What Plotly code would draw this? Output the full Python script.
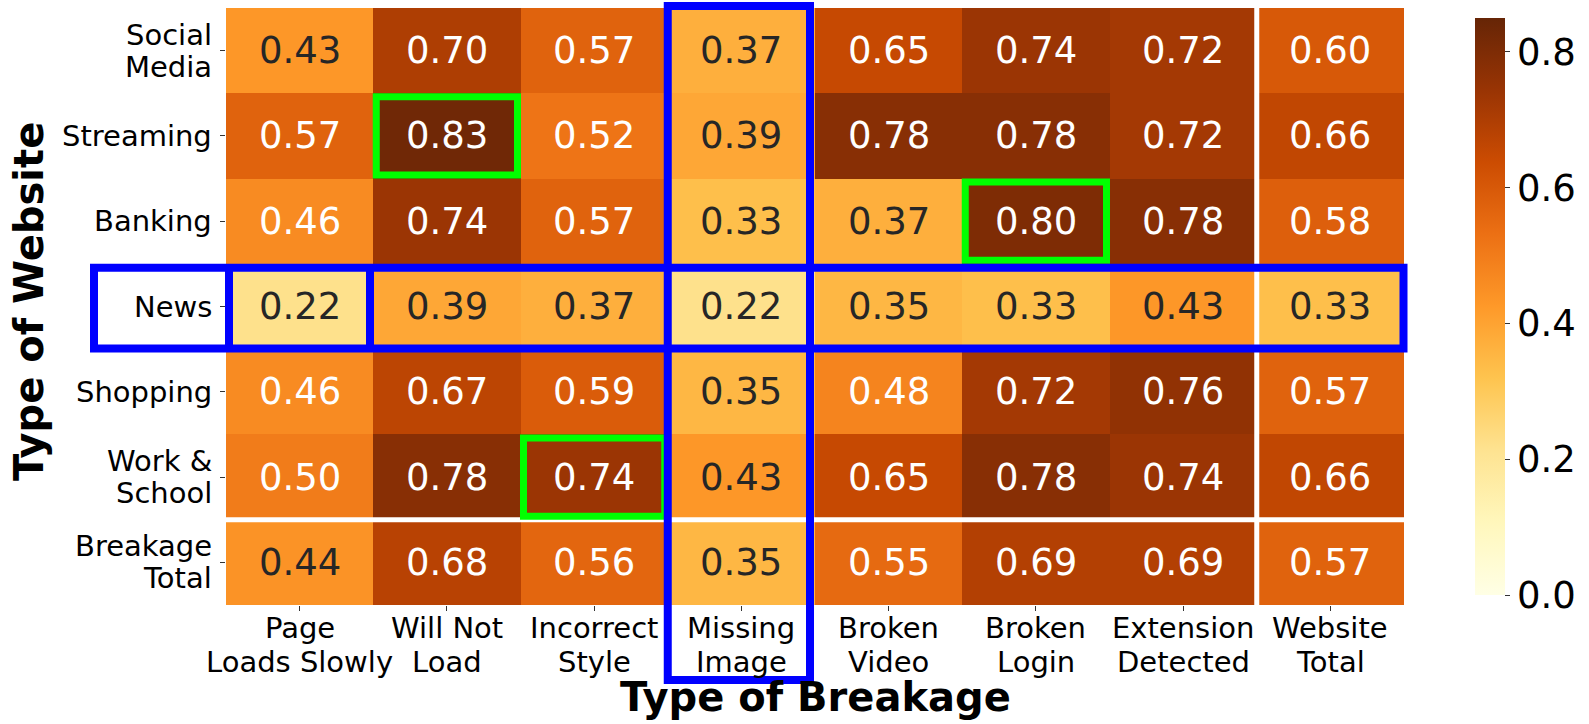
import plotly.graph_objects as go

# ---------------- data ----------------
breakage_types = ["Page<br>Loads Slowly", "Will Not<br>Load", "Incorrect<br>Style", "Missing<br>Image",
                  "Broken<br>Video", "Broken<br>Login", "Extension<br>Detected", "Website<br>Total"]
website_types = ["Social<br>Media", "Streaming", "Banking", "News", "Shopping", "Work &<br>School",
                 "Breakage<br>Total"]

social_media = [0.43, 0.70, 0.57, 0.37, 0.65, 0.74, 0.72, 0.60]
streaming = [0.57, 0.83, 0.52, 0.39, 0.78, 0.78, 0.72, 0.66]
banking = [0.46, 0.74, 0.57, 0.33, 0.37, 0.80, 0.78, 0.58]
news = [0.22, 0.39, 0.37, 0.22, 0.35, 0.33, 0.43, 0.33]
shopping = [0.46, 0.67, 0.59, 0.35, 0.48, 0.72, 0.76, 0.57]
work_school = [0.50, 0.78, 0.74, 0.43, 0.65, 0.78, 0.74, 0.66]
breakage_total = [0.44, 0.68, 0.56, 0.35, 0.55, 0.69, 0.69, 0.57]

colorbar_ticks = [0.0, 0.2, 0.4, 0.6, 0.8]

# highlighted cells (row index, column index)
green_cells = [(1, 1), (2, 5), (5, 2)]
blue_column = 3
blue_row = 3

z = [social_media, streaming, banking, news, shopping, work_school, breakage_total]

# ---------------- layout geometry ----------------
W, H = 1589, 724
L, R, T, B = 226, 185, 8, 119
pw, ph = W - L - R, H - T - B
ncol, nrow = len(breakage_types), len(website_types)
cw, rh = pw / ncol, ph / nrow
FONT = "DejaVu Sans"
TICK_FS = 29


def px_x(px):
    return (px - L) / pw


def px_y(py):
    return (T + ph - py) / ph


fig = go.Figure(go.Heatmap(
    z=z, x=list(range(ncol)), y=list(range(nrow)),
    colorscale="YlOrBr", zmin=0, zmax=0.85,
    colorbar=dict(
        x=px_x(1475), xanchor="left", xpad=0, y=0.5, yanchor="middle",
        len=1.0, lenmode="fraction", thickness=30, outlinewidth=0,
        tickvals=colorbar_ticks, ticktext=[f"{v:.1f}" for v in colorbar_ticks],
        ticks="outside", ticklen=5, tickcolor="#333",
        tickfont=dict(family=FONT, size=37, color="black"),
    ),
    hoverinfo="skip",
))

annotations = []
for r, row in enumerate(z):
    for c, v in enumerate(row):
        annotations.append(dict(
            x=c, y=r, xref="x", yref="y", text=f"{v:.2f}", showarrow=False,
            font=dict(family=FONT, size=37, color="#262626" if v < 0.45 else "white"),
        ))

# x tick labels, one annotation per line (tighter line spacing like the reference)
X_LINE_Y = [628, 662]
for c, lab in enumerate(breakage_types):
    for k, part in enumerate(lab.split("<br>")):
        annotations.append(dict(
            x=c, y=px_y(X_LINE_Y[k]), xref="x", yref="paper", text=part, showarrow=False,
            xanchor="center", yanchor="middle",
            font=dict(family=FONT, size=TICK_FS, color="black"),
        ))

# y tick labels
Y_SPACING = 32
for r, lab in enumerate(website_types):
    parts = lab.split("<br>")
    n = len(parts)
    for k, part in enumerate(parts):
        off = (k - (n - 1) / 2) * Y_SPACING / rh
        annotations.append(dict(
            x=px_x(214), y=r + off, xref="paper", yref="y", text=part, showarrow=False,
            xanchor="right", yanchor="middle",
            font=dict(family=FONT, size=TICK_FS, color="black"),
        ))

annotations.append(dict(
    x=px_x(815), y=px_y(697), xref="paper", yref="paper",
    text="<b>Type of Breakage</b>", showarrow=False, xanchor="center", yanchor="middle",
    font=dict(family=FONT, size=40, color="black"),
))
annotations.append(dict(
    x=px_x(29), y=px_y(302), xref="paper", yref="paper",
    text="<b>Type of Website</b>", showarrow=False, xanchor="center", yanchor="middle",
    textangle=-90, font=dict(family=FONT, size=40, color="black"),
))

shapes = []
# white separators
shapes.append(dict(type="line", xref="x", yref="y", x0=ncol - 1.5, x1=ncol - 1.5, y0=-0.5, y1=nrow - 0.5,
                   line=dict(color="white", width=5)))
shapes.append(dict(type="line", xref="x", yref="y", x0=-0.5, x1=ncol - 0.5, y0=nrow - 1.5, y1=nrow - 1.5,
                   line=dict(color="white", width=5)))

# green boxes
gx, gy = 3 / cw, 3.5 / rh
for (r, c) in green_cells:
    shapes.append(dict(type="rect", xref="x", yref="y",
                       x0=c - 0.5 + gx, x1=c + 0.5 - gx, y0=r - 0.5 + gy, y1=r + 0.5 - gy,
                       line=dict(color="#00ff00", width=7)))

BLUE = "#0000ff"
# blue column box (extends over tick labels)
shapes.append(dict(type="rect", xref="x", yref="paper",
                   x0=blue_column - 0.5, x1=blue_column + 0.5 - 5 / cw,
                   y0=px_y(680), y1=px_y(6),
                   line=dict(color=BLUE, width=8)))
# blue row box (extends over tick label)
by0, by1 = blue_row - 0.5 + 4 / rh, blue_row + 0.5 - 0.6 / rh
shapes.append(dict(type="rect", xref="paper", yref="y",
                   x0=px_x(94), x1=px_x(1403.5), y0=by0, y1=by1,
                   line=dict(color=BLUE, width=8)))
for px in (229, 370):
    shapes.append(dict(type="line", xref="paper", yref="y",
                       x0=px_x(px), x1=px_x(px), y0=by0, y1=by1,
                       line=dict(color=BLUE, width=8)))

fig.update_layout(
    width=W, height=H, autosize=False,
    margin=dict(l=L, r=R, t=T, b=B, pad=0, autoexpand=False),
    paper_bgcolor="white", plot_bgcolor="white",
    font=dict(family=FONT, color="black"),
    annotations=annotations, shapes=shapes,
    xaxis=dict(
        tickmode="array", tickvals=list(range(ncol)), showticklabels=False,
        range=[-0.5, ncol - 0.5], showgrid=False, zeroline=False, showline=False,
        ticks="outside", ticklen=5, tickcolor="#333", automargin=False,
    ),
    yaxis=dict(
        tickmode="array", tickvals=list(range(nrow)), showticklabels=False,
        range=[nrow - 0.5, -0.5], showgrid=False, zeroline=False, showline=False,
        ticks="outside", ticklen=5, tickcolor="#333", automargin=False,
    ),
)

fig.write_html(
    "out.html",
    config={"displayModeBar": False},
    post_script="document.body.style.margin='0';document.body.style.overflow='hidden';",
)
